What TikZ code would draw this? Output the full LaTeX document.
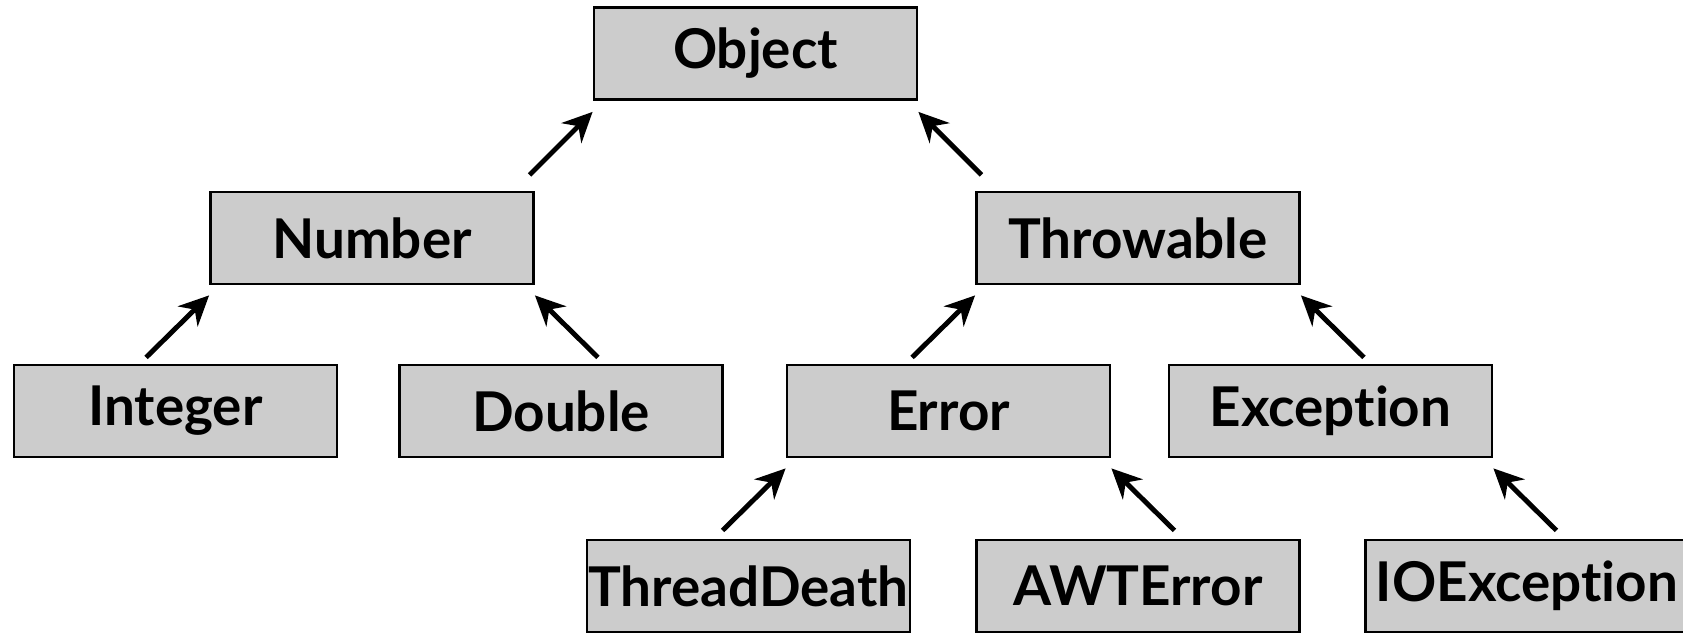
\documentclass[tikz,border=0pt]{standalone}
\usepackage{fontspec}
\setmainfont{Lato}[Ligatures=NoCommon]
\usetikzlibrary{arrows.meta}
\tikzset{cls/.style={draw, line width=0.8pt, fill=black!20, minimum width=3.23cm,
      minimum height=0.92cm, inner sep=0pt, font=\fontsize{15.6}{18}\selectfont\bfseries}}
\tikzset{isa/.style={line width=1.4pt, -{Stealth[length=8.5pt,width=8pt]}}}
\begin{document}
\begin{tikzpicture}
    \useasboundingbox (0,0) rectangle (16.83,6.33);
    \node[cls] (object) at (7.555,5.795) {Object};

    \node[cls] (number) at (3.72,3.95) {Number};
    \node[cls] (throwable) at (11.38,3.95) {Throwable};

    \node[cls] (integer) at (1.755,2.22) {Integer};
    \node[cls] (double) at (5.61,2.22) {Double};
    \node[cls] (error) at (9.485,2.22) {Error};
    \node[cls] (exception) at (13.305,2.22) {Exception};

    \node[cls] (threaddeath) at (7.485,0.47) {ThreadDeath};
    \node[cls] (awterror) at (11.38,0.47) {AWTError};
    \node[cls] (ioexception) at (15.27,0.47) {IOException};

    \draw[isa] ([shift={(-0.63,-0.74)}]object.south west) -- ([yshift=-0.11cm]object.south west);
    \draw[isa] ([shift={(0.63,-0.74)}]object.south east) -- ([yshift=-0.11cm]object.south east);
    \draw[isa] ([shift={(-0.63,-0.72)}]number.south west) -- ([yshift=-0.1cm]number.south west);
    \draw[isa] ([shift={(0.63,-0.72)}]number.south east) -- ([yshift=-0.1cm]number.south east);
    \draw[isa] ([shift={(-0.63,-0.72)}]throwable.south west) -- ([yshift=-0.1cm]throwable.south west);
    \draw[isa] ([shift={(0.63,-0.72)}]throwable.south east) -- ([yshift=-0.1cm]throwable.south east);
    \draw[isa] ([shift={(-0.63,-0.72)}]error.south west) -- ([yshift=-0.1cm]error.south west);
    \draw[isa] ([shift={(0.63,-0.72)}]error.south east) -- ([yshift=-0.1cm]error.south east);
    \draw[isa] ([shift={(0.63,-0.72)}]exception.south east) -- ([yshift=-0.1cm]exception.south east);
\end{tikzpicture}
\end{document}
